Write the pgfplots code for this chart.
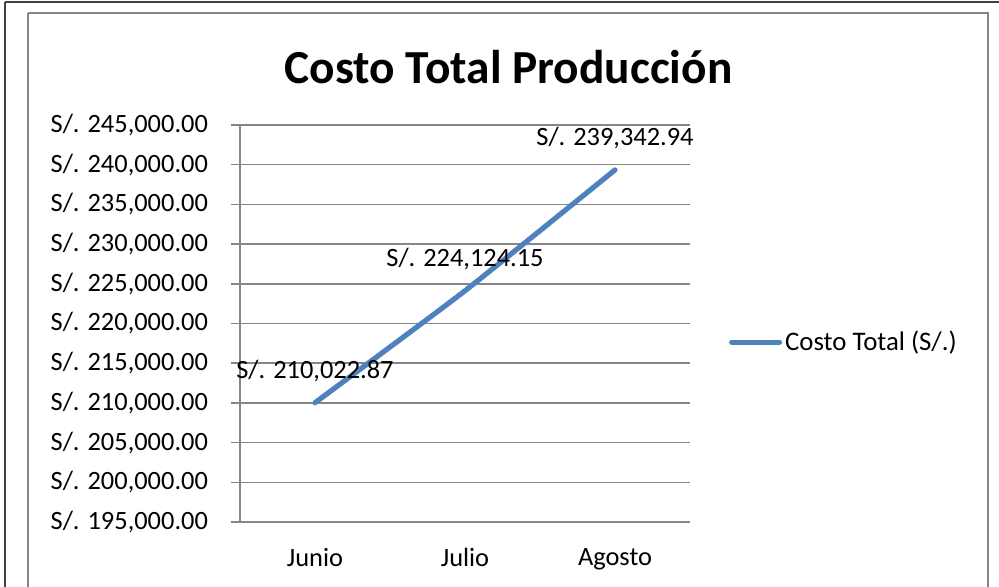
\documentclass[border=0pt]{standalone}
\usepackage{pgfplots}
\pgfplotsset{compat=1.18}
\usepackage{pgfplotstable}
\usepackage{fontspec}
\setmainfont{Carlito}
\definecolor{lineblue}{HTML}{4F81BD}
\definecolor{gridgray}{RGB}{134,134,134}
\definecolor{framedark}{RGB}{64,64,64}
\pgfplotstableread[col sep=semicolon,row sep=\\]{
x;y;label\\
0;210022.87;S/. 210,022.87\\
1;224124.15;S/. 224,124.15\\
2;239342.94;S/. 239,342.94\\
}\costdata
\begin{document}
\begin{tikzpicture}
\useasboundingbox (0,0) rectangle (499.5pt,293.5pt);
\clip (0,0) rectangle (499.5pt,293.5pt);
\draw[framedark,line width=1pt] (2.5pt,292.5pt) -- (510pt,292.5pt);
\draw[framedark,line width=1pt] (2.5pt,292.5pt) -- (2.5pt,-10pt);
\draw[gridgray,line width=0.6pt] (14pt,287pt) -- (494pt,287pt) -- (494pt,-10pt);
\draw[gridgray,line width=0.6pt] (14pt,287pt) -- (14pt,-10pt);
\node[font=\fontsize{23.7}{28}\selectfont\bfseries] at (254.25pt,260pt) {Costo Total Producción};
\begin{axis}[
  at={(120pt,32.5pt)}, anchor=south west,
  scale only axis, width=225pt, height=198.5pt,
  xmin=-0.5, xmax=2.5, ymin=195000, ymax=245000,
  scaled y ticks=false,
  axis lines=left, axis line style={-, gridgray, line width=0.75pt},
  xtick={0,1,2}, xticklabels={Junio,Julio,Agosto},
  minor xtick={-0.5,0.5,1.5,2.5},
  xtick style={draw=none},
  minor x tick style={gridgray, line width=0.75pt},
  ytick={195000,200000,...,245000},
  yticklabels={{S/. 195,000.00},{S/. 200,000.00},{S/. 205,000.00},{S/. 210,000.00},{S/. 215,000.00},{S/. 220,000.00},{S/. 225,000.00},{S/. 230,000.00},{S/. 235,000.00},{S/. 240,000.00},{S/. 245,000.00}},
  y tick style={gridgray, line width=0.75pt},
  tick align=outside, major tick length=4.5pt, minor tick length=4.5pt,
  ymajorgrids, grid style={gridgray, line width=0.75pt},
  ticklabel style={font=\fontsize{13.2}{15}\selectfont},
  yticklabel style={xshift=-8pt},
  xticklabel style={yshift=-5pt},
  legend style={at={(1.086,0.453)}, anchor=west, draw=none, fill=none, inner sep=0pt,
    font=\fontsize{13.4}{15}\selectfont, nodes={inner sep=1.5pt}},
  legend cell align=left,
  clip=false,
]
\addplot[lineblue, line width=2.6pt, smooth, tension=0.3, line cap=round,
  point meta=explicit symbolic, nodes near coords,
  every node near coord/.append style={text=black, font=\fontsize{13.2}{15}\selectfont, anchor=base, yshift=12pt},
  legend image code/.code={\draw[lineblue, line width=2.6pt, line cap=round] (1.3pt,0pt) -- (25.2pt,0pt);}
] table[x=x, y=y, meta=label] {\costdata};
\addlegendentry{Costo Total (S/.)}
\end{axis}
\end{tikzpicture}
\end{document}
